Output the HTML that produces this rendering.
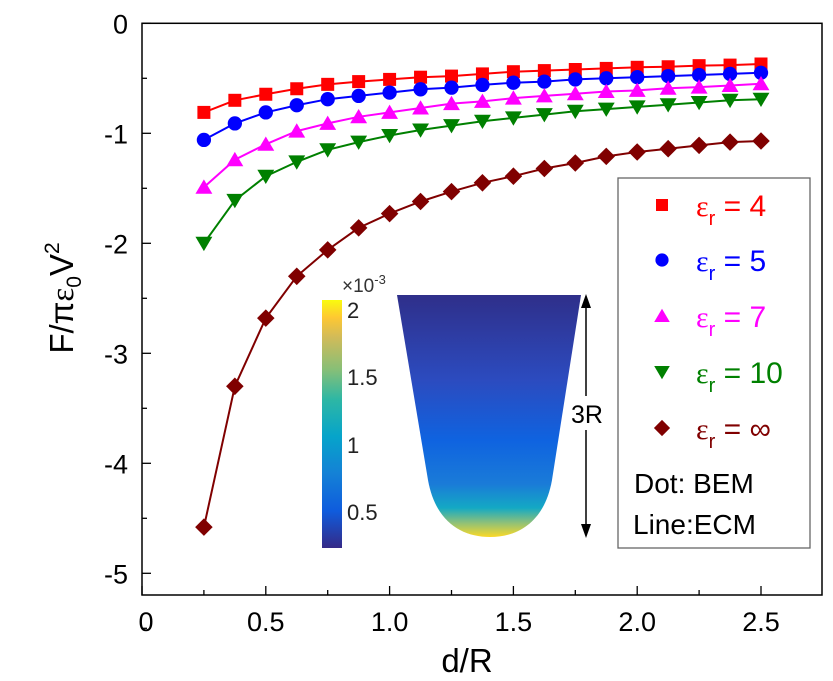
<!DOCTYPE html>
<html><head><meta charset="utf-8"><style>
html,body{margin:0;padding:0;background:#fff;}
svg{display:block;font-family:"Liberation Sans",Arial,sans-serif;}
</style></head><body>
<svg id="chart" width="833" height="681" viewBox="0 0 833 681">
<defs>
<linearGradient id="cbar" x1="0" y1="1" x2="0" y2="0">
<stop offset="0" stop-color="#352a87"/>
<stop offset="0.15" stop-color="#0f5cdd"/>
<stop offset="0.3" stop-color="#1481d6"/>
<stop offset="0.45" stop-color="#06a4ca"/>
<stop offset="0.6" stop-color="#2eb7a4"/>
<stop offset="0.72" stop-color="#87bf77"/>
<stop offset="0.85" stop-color="#d1bb59"/>
<stop offset="0.93" stop-color="#fec832"/>
<stop offset="1" stop-color="#f9fb0e"/>
</linearGradient>
<linearGradient id="bowl" x1="0" y1="0" x2="0" y2="1">
<stop offset="0" stop-color="#2f2f8a"/>
<stop offset="0.35" stop-color="#2c4bbf"/>
<stop offset="0.6" stop-color="#0f63e0"/>
<stop offset="0.78" stop-color="#1a7bd8"/>
<stop offset="0.88" stop-color="#14a9c4"/>
<stop offset="0.94" stop-color="#8cc07a"/>
<stop offset="1" stop-color="#fbd927"/>
</linearGradient>
</defs>
<g id="plot"></g>
</svg>
<script>
const xVals=[0.25,0.375,0.5,0.625,0.75,0.875,1.0,1.125,1.25,1.375,1.5,1.625,1.75,1.875,2.0,2.125,2.25,2.375,2.5];
const eps4=[-0.81,-0.70,-0.645,-0.595,-0.555,-0.53,-0.51,-0.49,-0.48,-0.46,-0.44,-0.43,-0.42,-0.41,-0.40,-0.395,-0.385,-0.38,-0.37];
const eps5=[-1.06,-0.91,-0.81,-0.745,-0.69,-0.66,-0.63,-0.60,-0.585,-0.56,-0.54,-0.53,-0.51,-0.50,-0.49,-0.48,-0.47,-0.46,-0.45];
const eps7=[-1.49,-1.24,-1.10,-0.98,-0.91,-0.85,-0.81,-0.77,-0.73,-0.71,-0.68,-0.66,-0.64,-0.62,-0.61,-0.59,-0.58,-0.565,-0.55];
const eps10=[-2.0,-1.61,-1.39,-1.26,-1.15,-1.08,-1.02,-0.97,-0.93,-0.89,-0.86,-0.83,-0.80,-0.78,-0.76,-0.74,-0.72,-0.70,-0.69];
const epsInf=[-4.58,-3.30,-2.68,-2.30,-2.06,-1.86,-1.73,-1.62,-1.53,-1.45,-1.39,-1.32,-1.27,-1.21,-1.17,-1.14,-1.11,-1.08,-1.07];
const xTicks=[0,0.5,1.0,1.5,2.0,2.5];
const xTickLabels=["0","0.5","1.0","1.5","2.0","2.5"];
const yTicks=[0,-1,-2,-3,-4,-5];
const yTickLabels=["0","-1","-2","-3","-4","-5"];

const NS="http://www.w3.org/2000/svg";
const g=document.getElementById('plot');
const L=142,R=822,T=23.3,B=595;
const X=v=>L+v*247.6;
const Y=v=>T-v*110;
function mk(tag,attrs,parent){const e=document.createElementNS(NS,tag);for(const k in attrs)e.setAttribute(k,attrs[k]);(parent||g).appendChild(e);return e;}

const frame=mk('rect',{x:L,y:T,width:R-L,height:B-T,fill:'none',stroke:'#000','stroke-width':1.5});



xTicks.forEach((v,i)=>{
  const t=mk('line',{x1:X(v),x2:X(v),y1:B,y2:B-9,stroke:'#000','stroke-width':1.3});
  
  
  if(i<xTicks.length-1){const m=mk('line',{x1:X(v+0.25),x2:X(v+0.25),y1:B,y2:B-5,stroke:'#000','stroke-width':1.3});
  
  }
  const lb=mk('text',{x:X(v)+(i===0?4:0),y:B+36,'text-anchor':'middle','font-size':27,fill:'#000'});
  lb.textContent=xTickLabels[i];
  
  
});
yTicks.forEach((v,i)=>{
  const t=mk('line',{x1:L,x2:L+9,y1:Y(v),y2:Y(v),stroke:'#000','stroke-width':1.3});
  
  
  const m=mk('line',{x1:L,x2:L+5,y1:Y(v-0.5),y2:Y(v-0.5),stroke:'#000','stroke-width':1.3});
  
  
  const lb=mk('text',{x:128,y:Y(v)+10,'text-anchor':'end','font-size':27,fill:'#000'});
  lb.textContent=yTickLabels[i];
  
  
});

const series=[
 {name:'eps-4',data:eps4,color:'#ff0000',m:'square'},
 {name:'eps-5',data:eps5,color:'#0000ff',m:'circle'},
 {name:'eps-7',data:eps7,color:'#ff00ff',m:'up'},
 {name:'eps-10',data:eps10,color:'#008000',m:'down'},
 {name:'eps-inf',data:epsInf,color:'#800000',m:'diamond'}
];
function marker(type,x,y,c,s,parent){
  let e;
  if(type==='square')e=mk('rect',{x:x-s,y:y-s,width:2*s,height:2*s,fill:c},parent);
  else if(type==='circle')e=mk('circle',{cx:x,cy:y,r:s*1.1,fill:c},parent);
  else if(type==='up')e=mk('polygon',{points:`${x},${y-s*1.2} ${x-s*1.3},${y+s} ${x+s*1.3},${y+s}`,fill:c},parent);
  else if(type==='down')e=mk('polygon',{points:`${x},${y+s*1.2} ${x-s*1.3},${y-s} ${x+s*1.3},${y-s}`,fill:c},parent);
  else e=mk('polygon',{points:`${x},${y-s*1.35} ${x+s*1.35},${y} ${x},${y+s*1.35} ${x-s*1.35},${y}`,fill:c},parent);
  return e;
}
series.forEach(s=>{
  const pl=mk('polyline',{points:s.data.map((v,i)=>X(xVals[i])+','+Y(v)).join(' '),fill:'none',stroke:s.color,'stroke-width':2});
  
  
  s.data.forEach((v,i)=>{
    const e=marker(s.m,X(xVals[i]),Y(v),s.color,6.5);
    
    
  });
});
</script>
<script>
(function(){
const NS="http://www.w3.org/2000/svg";
const svg=document.getElementById('chart');
function mk(tag,attrs){const e=document.createElementNS(NS,tag);for(const k in attrs)e.setAttribute(k,attrs[k]);svg.appendChild(e);return e;}
const box=mk('rect',{x:618,y:178,width:192,height:370,fill:'#fff',stroke:'#666','stroke-width':1.3});


const ent=[['4','#ff0000','square',205],['5','#0000ff','circle',260],['7','#ff00ff','up',316],['10','#008000','down',372],['∞','#800000','diamond',428]];
ent.forEach(en=>{
  const [lab,c,m,y]=en;const x=662,s=6;let e;
  if(m==='square')e=mk('rect',{x:x-s,y:y-s,width:2*s,height:2*s,fill:c});
  else if(m==='circle')e=mk('circle',{cx:x,cy:y,r:s*1.1,fill:c});
  else if(m==='up')e=mk('polygon',{points:`${x},${y-s*1.2} ${x-s*1.3},${y+s} ${x+s*1.3},${y+s}`,fill:c});
  else if(m==='down')e=mk('polygon',{points:`${x},${y+s*1.2} ${x-s*1.3},${y-s} ${x+s*1.3},${y-s}`,fill:c});
  else e=mk('polygon',{points:`${x},${y-s*1.35} ${x+s*1.35},${y} ${x},${y+s*1.35} ${x-s*1.35},${y}`,fill:c});
  
  
  const t=mk('text',{x:696,y:y+11,'font-size':30,fill:c});
  t.innerHTML='<tspan font-family="Liberation Serif, serif">ε</tspan><tspan font-size="20" dy="9">r</tspan><tspan dy="-9"> = '+lab+'</tspan>';
  
  
});
const d1=mk('text',{x:634,y:493,'font-size':28,fill:'#000'});d1.textContent='Dot: BEM';


const d2=mk('text',{x:633,y:534,'font-size':28,fill:'#000'});d2.textContent='Line:ECM';



const xt=mk('text',{x:467,y:672,'text-anchor':'middle','font-size':33,fill:'#000'});xt.textContent='d/R';


const yt=mk('text',{x:0,y:0,'text-anchor':'middle','font-size':33,fill:'#000',transform:'translate(73,298) rotate(-90)'});
yt.innerHTML='F/π<tspan font-family="Liberation Serif, serif">ε</tspan><tspan font-size="21" dy="8">0</tspan><tspan dy="-8">V</tspan><tspan font-size="21" dy="-14">2</tspan>';



const cb=mk('rect',{x:322,y:300,width:20,height:248,fill:'url(#cbar)'});


[['2',310],['1.5',377],['1',445],['0.5',512]].forEach(a=>{
  const t=mk('text',{x:347,y:a[1]+8,'font-size':22,fill:'#222'});t.textContent=a[0];
  
  
});
const ex=mk('text',{x:342,y:292,'font-size':19,fill:'#333'});
ex.innerHTML='×10<tspan font-size="13" dy="-8">-3</tspan>';


const bw=mk('path',{d:'M397,295 L581,295 L552,480 C545,520 520,537 490,537 C460,537 435,520 428,480 Z',fill:'url(#bowl)'});


const ar=mk('line',{x1:586,y1:300,x2:586,y2:532,stroke:'#000','stroke-width':1.5});


const ah1=mk('polygon',{points:'586,294 581,308 591,308',fill:'#000'});


const ah2=mk('polygon',{points:'586,538 581,524 591,524',fill:'#000'});


const bg=mk('rect',{x:567,y:396,width:40,height:34,fill:'#fff'});


const r3=mk('text',{x:587,y:423,'text-anchor':'middle','font-size':25,fill:'#000'});r3.textContent='3R';


})();
</script>
</body></html>
